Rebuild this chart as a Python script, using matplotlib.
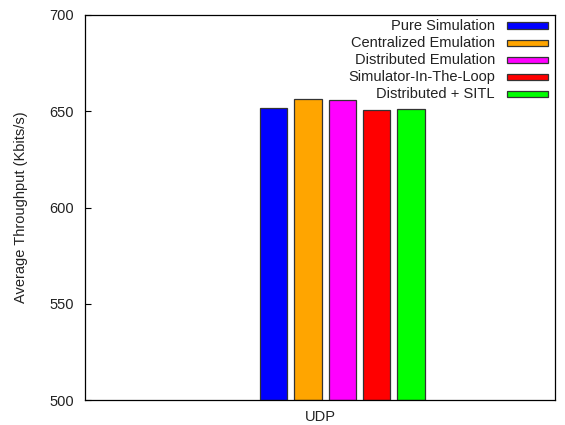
import matplotlib
matplotlib.use("Agg")
import matplotlib.pyplot as plt
from matplotlib.patches import Rectangle

plt.rcParams['font.family'] = ['Liberation Sans', 'DejaVu Sans']
plt.rcParams['text.color'] = '#222222'
plt.rcParams['axes.labelcolor'] = '#222222'
plt.rcParams['ytick.labelcolor'] = '#222222'
plt.rcParams['xtick.labelcolor'] = '#222222'

# data
categories = ["UDP"]
series = ["Pure Simulation", "Centralized Emulation", "Distributed Emulation",
          "Simulator-In-The-Loop", "Distributed + SITL"]
values = [651.5, 656.3, 655.9, 650.6, 651.0]
colors = ["#0000ff", "#ffa500", "#ff00ff", "#ff0000", "#00ff00"]

fig = plt.figure(figsize=(5.65, 4.25), dpi=100)
ax = fig.add_axes([85 / 565, 25 / 425, 470 / 565, 385 / 425])

# gnuplot-like cluster: bars offset from the category position
width = 0.117
step = 0.146
start = -0.197
for i, (name, v, c) in enumerate(zip(series, values, colors)):
    ax.bar(start + i * step, v - 500, bottom=500, width=width, color=c,
           edgecolor="#333333", linewidth=0.9, label=name)

ax.set_xlim(-1, 1)
ax.set_ylim(500, 700)
ax.set_yticks([500, 550, 600, 650, 700])
ax.set_xticks([0])
ax.set_xticklabels(categories)
ax.tick_params(axis="y", direction="in", length=4, width=0.8, labelsize=10.5, pad=8)
ax.tick_params(axis="x", length=0, labelsize=10.5, pad=7)
ax.set_ylabel("Average Throughput (Kbits/s)", fontsize=10.5, labelpad=15)
for s in ax.spines.values():
    s.set_linewidth(0.9)

# legend, gnuplot style: text on the left, sample on the right
tr = ax.transAxes
x_text = (495 - 85) / 470
x0 = (507 - 85) / 470
w = 41 / 470
h = 6.5 / 385
for i, (name, c) in enumerate(zip(series, colors)):
    yc = (400 - (25.7 + i * 17.1)) / 385
    ax.text(x_text, yc, name, transform=tr, ha="right", va="center", fontsize=10.5)
    ax.add_patch(Rectangle((x0, yc - h / 2), w, h, transform=tr, facecolor=c,
                           edgecolor="#333333", linewidth=0.9, clip_on=False))

fig.savefig("out.png", dpi=100)
